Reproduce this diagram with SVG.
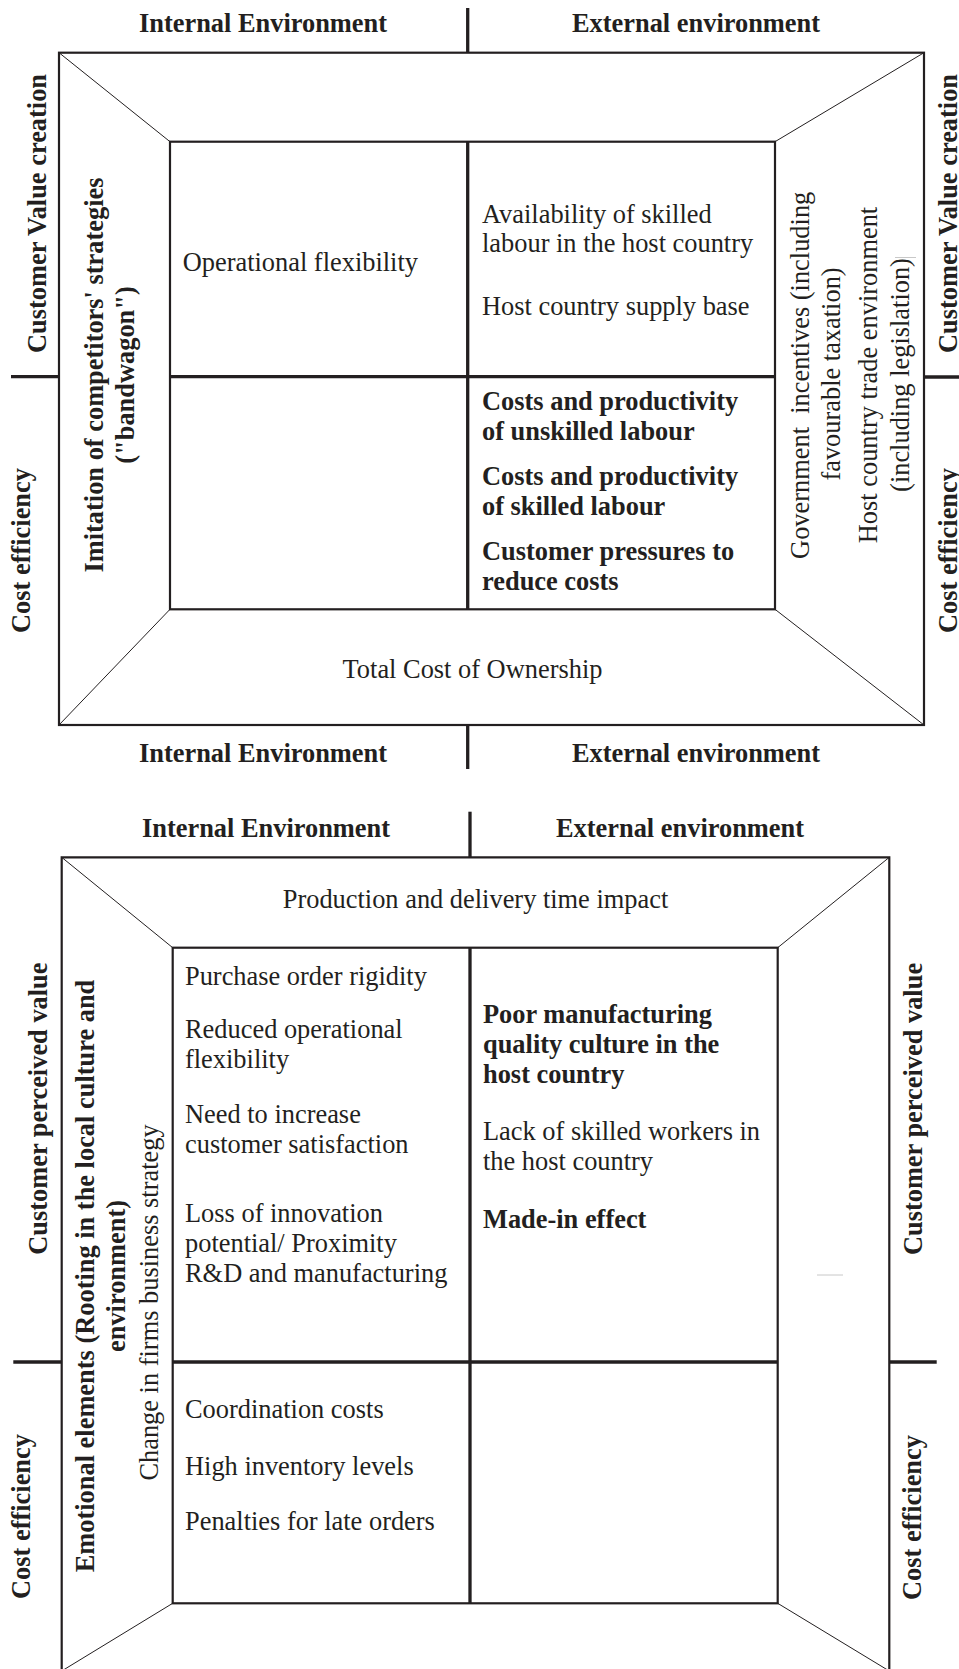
<svg xmlns="http://www.w3.org/2000/svg" width="959" height="1669" viewBox="0 0 959 1669">
<style>
  text{font-family:"Liberation Serif","Times New Roman",serif;font-size:26.4px;fill:#231f20}
  .b{font-weight:bold}
  .m{text-anchor:middle}
  .pre{white-space:pre}
  .frame{stroke:#231f20;stroke-width:2.2;fill:none}
  .diag{stroke:#231f20;stroke-width:1;fill:none}
  .axis{stroke:#231f20;stroke-width:3.3;fill:none}
  .ghost{stroke:#c8c8c8;stroke-width:1;fill:none}
</style>
<rect width="959" height="1669" fill="#ffffff"/>

<!-- ============ TOP DIAGRAM ============ -->
<g id="top-frame">
  <rect class="frame" x="59" y="52.7" width="865" height="672.3"/>
  <rect class="frame" x="170" y="141.7" width="605" height="467.6"/>
</g>
<g id="top-connectors">
  <line class="diag" x1="59" y1="52.7" x2="170" y2="141.7"/>
  <line class="diag" x1="924" y1="52.7" x2="775" y2="141.7"/>
  <line class="diag" x1="59" y1="725" x2="170" y2="609.3"/>
  <line class="diag" x1="924" y1="725" x2="775" y2="609.3"/>
  <line class="axis" x1="467.7" y1="8" x2="467.7" y2="52.7"/>
  <line class="axis" x1="467.7" y1="141.7" x2="467.7" y2="609.3"/>
  <line class="axis" x1="467.7" y1="725" x2="467.7" y2="769"/>
  <line class="axis" x1="11" y1="376.7" x2="59" y2="376.7"/>
  <line class="axis" x1="170" y1="376.7" x2="775" y2="376.7"/>
  <line class="axis" x1="924" y1="377" x2="959" y2="377"/>
  <line class="ghost" x1="895" y1="257.5" x2="916" y2="257.5"/>
</g>
<g id="top-headings">
  <text class="b m" x="263" y="32">Internal Environment</text>
  <text class="b m" x="696" y="32">External environment</text>
  <text class="b m" x="263" y="761.7">Internal Environment</text>
  <text class="b m" x="696" y="761.7">External environment</text>
</g>
<g id="top-side-labels">
  <text class="b m" transform="translate(45.5,213.5) rotate(-90)">Customer Value creation</text>
  <text class="b m" transform="translate(957,213.5) rotate(-90)">Customer Value creation</text>
  <text class="b m" transform="translate(29.5,550.5) rotate(-90)">Cost efficiency</text>
  <text class="b m" transform="translate(956.5,550.5) rotate(-90)">Cost efficiency</text>
</g>
<g id="top-left-band">
  <text class="b m" transform="translate(103,375) rotate(-90)">Imitation of competitors' strategies</text>
  <text class="b m" transform="translate(134,375) rotate(-90)">(&quot;bandwagon&quot;)</text>
</g>
<g id="top-right-band">
  <text class="m pre" transform="translate(809,375.3) rotate(-90)">Government  incentives (including</text>
  <text class="m" transform="translate(840,374) rotate(-90)">favourable taxation)</text>
  <text class="m" transform="translate(877,375) rotate(-90)">Host country trade environment</text>
  <text class="m" transform="translate(909,375) rotate(-90)">(including legislation)</text>
</g>
<g id="top-q1">
  <text x="182.7" y="270.7">Operational flexibility</text>
</g>
<g id="top-q2">
  <text x="482" y="222.5">Availability of skilled</text>
  <text x="482" y="252">labour in the host country</text>
  <text x="482" y="315">Host country supply base</text>
</g>
<g id="top-q4">
  <text class="b" x="482" y="410">Costs and productivity</text>
  <text class="b" x="482" y="440">of unskilled labour</text>
  <text class="b" x="482" y="485">Costs and productivity</text>
  <text class="b" x="482" y="515">of skilled labour</text>
  <text class="b" x="482" y="559.5">Customer pressures to</text>
  <text class="b" x="482" y="589.5">reduce costs</text>
</g>
<g id="top-bottom-band">
  <text class="m" x="472.5" y="678.3">Total Cost of Ownership</text>
</g>

<!-- ============ BOTTOM DIAGRAM ============ -->
<g id="bottom-frame">
  <path class="frame" d="M61.7,1680 V857.3 H889.3 V1680"/>
  <rect class="frame" x="172.7" y="947.7" width="605" height="655.6"/>
</g>
<g id="bottom-connectors">
  <line class="diag" x1="61.7" y1="857.3" x2="172.7" y2="947.7"/>
  <line class="diag" x1="889.3" y1="857.3" x2="777.7" y2="947.7"/>
  <line class="diag" x1="172.7" y1="1603.3" x2="61.7" y2="1671"/>
  <line class="diag" x1="777.7" y1="1603.3" x2="889.3" y2="1671"/>
  <line class="axis" x1="470" y1="811.7" x2="470" y2="857.3"/>
  <line class="axis" x1="470" y1="947.7" x2="470" y2="1603.3"/>
  <line class="axis" x1="13.3" y1="1362" x2="61.7" y2="1362"/>
  <line class="axis" x1="172.7" y1="1362" x2="777.7" y2="1362"/>
  <line class="axis" x1="889.3" y1="1362" x2="936.7" y2="1362"/>
  <line class="ghost" x1="817" y1="1275" x2="843" y2="1275"/>
</g>
<g id="bottom-headings">
  <text class="b m" x="266" y="836.7">Internal Environment</text>
  <text class="b m" x="680" y="836.7">External environment</text>
</g>
<g id="bottom-side-labels">
  <text class="b m" transform="translate(47,1108.6) rotate(-90)">Customer perceived value</text>
  <text class="b m" transform="translate(922,1109) rotate(-90)">Customer perceived value</text>
  <text class="b m" transform="translate(30,1516.5) rotate(-90)">Cost efficiency</text>
  <text class="b m" transform="translate(921,1517.5) rotate(-90)">Cost efficiency</text>
</g>
<g id="bottom-top-band">
  <text class="m" x="475.5" y="908.3">Production and delivery time impact</text>
</g>
<g id="bottom-left-band">
  <text class="b m" transform="translate(94,1276) rotate(-90)">Emotional elements (Rooting in the local culture and</text>
  <text class="b m" transform="translate(125,1276) rotate(-90)">environment)</text>
  <text class="m" transform="translate(158,1302.5) rotate(-90)">Change in firms business strategy</text>
</g>
<g id="bottom-q1">
  <text x="185" y="985">Purchase order rigidity</text>
  <text x="185" y="1038.3">Reduced operational</text>
  <text x="185" y="1068.3">flexibility</text>
  <text x="185" y="1123.3">Need to increase</text>
  <text x="185" y="1153.3">customer satisfaction</text>
  <text x="185" y="1221.7">Loss of innovation</text>
  <text x="185" y="1251.7">potential/ Proximity</text>
  <text x="185" y="1281.7">R&amp;D and manufacturing</text>
</g>
<g id="bottom-q2">
  <text class="b" x="483" y="1023.3">Poor manufacturing</text>
  <text class="b" x="483" y="1053.3">quality culture in the</text>
  <text class="b" x="483" y="1083.3">host country</text>
  <text x="483" y="1140">Lack of skilled workers in</text>
  <text x="483" y="1170">the host country</text>
  <text class="b" x="483" y="1228">Made-in effect</text>
</g>
<g id="bottom-q3">
  <text x="185" y="1418.3">Coordination costs</text>
  <text x="185" y="1475">High inventory levels</text>
  <text x="185" y="1530">Penalties for late orders</text>
</g>
</svg>
